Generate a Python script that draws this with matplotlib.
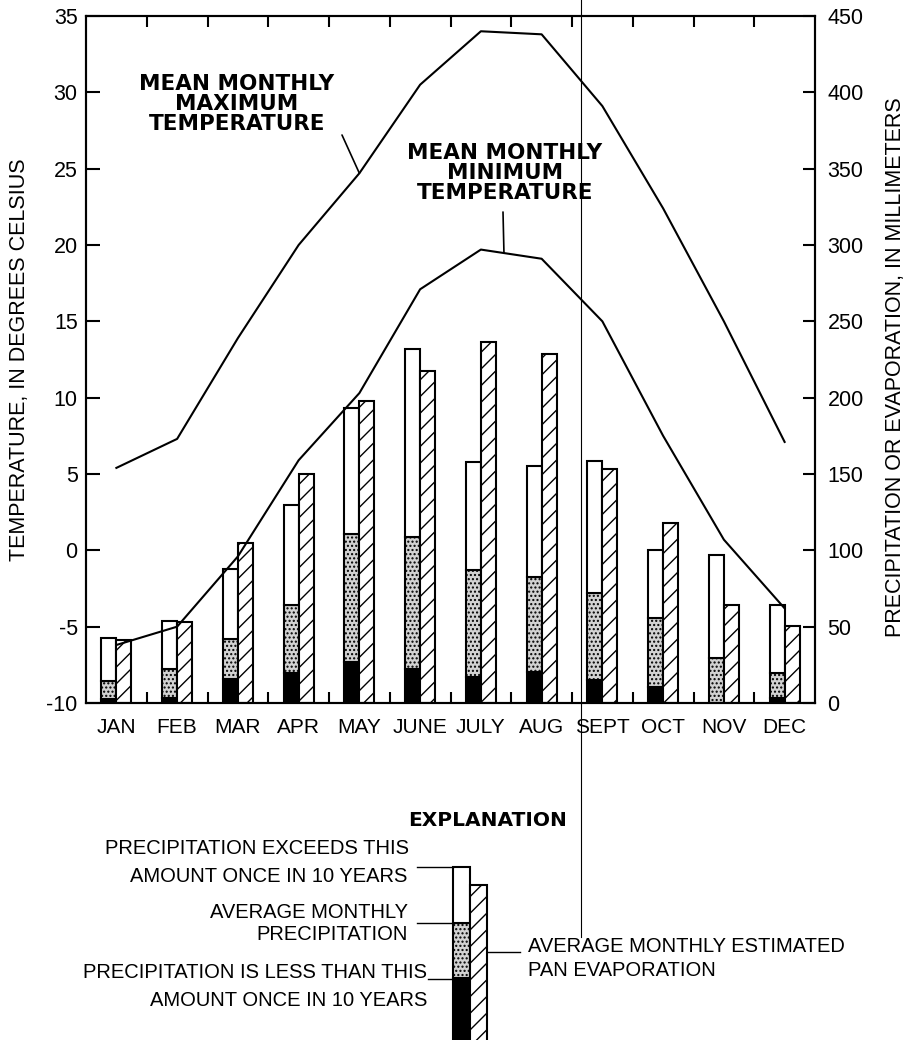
import numpy as np
import matplotlib.pyplot as plt
from matplotlib.lines import Line2D

plt.rcParams['font.family'] = ['Liberation Sans', 'DejaVu Sans']
plt.rcParams['axes.unicode_minus'] = False
plt.rcParams['hatch.color'] = 'black'
plt.rcParams['hatch.linewidth'] = 1.0

W, H = 906, 1040

months = ['JAN', 'FEB', 'MAR', 'APR', 'MAY', 'JUNE', 'JULY', 'AUG', 'SEPT', 'OCT', 'NOV', 'DEC']

# temperature, deg C
t_max = [5.4, 7.3, 13.9, 20.0, 24.7, 30.5, 34.0, 33.8, 29.1, 22.4, 15.0, 7.1]
t_min = [-6.2, -5.0, -0.4, 5.9, 10.3, 17.1, 19.7, 19.1, 15.0, 7.5, 0.7, -3.8]

# precipitation and pan evaporation, mm
precip_low = [2.5, 3.5, 16.0, 19.8, 27.0, 22.0, 17.0, 20.5, 15.0, 10.7, 0.0, 3.0]
precip_avg = [14.2, 22.2, 41.9, 64.0, 110.6, 109.0, 87.0, 82.7, 71.8, 55.4, 29.2, 19.4]
precip_high = [42.3, 53.7, 87.5, 130.0, 193.0, 231.7, 158.0, 155.0, 158.6, 100.0, 96.9, 64.0]
evap = [41.5, 53.0, 105.0, 149.7, 198.0, 217.5, 236.5, 228.4, 153.6, 117.6, 64.0, 50.4]

# sample bar in the explanation (arbitrary units)
key_levels = [62, 117, 173]
key_evap = 155


def px(x, y):
    return x / W, 1 - y / H


fig = plt.figure(figsize=(W / 100, H / 100), dpi=100)
ax = fig.add_axes([86 / W, 1 - 703 / H, 729 / W, 687 / H])
ax2 = ax.twinx()
ax.set_zorder(ax2.get_zorder() + 1)
ax.patch.set_visible(False)

x = np.arange(12) + 0.5
w = 0.247
low = np.array(precip_low)
avg = np.array(precip_avg)
high = np.array(precip_high)

ax2.bar(x - w / 2, low, w, color='black', edgecolor='black', lw=1.5)
ax2.bar(x - w / 2, avg - low, w, bottom=low, facecolor='#d2d2d2',
        edgecolor='black', hatch='....', lw=1.5)
ax2.bar(x - w / 2, high - avg, w, bottom=avg, facecolor='white',
        edgecolor='black', lw=1.5)
ax2.bar(x + w / 2, evap, w, facecolor='white', edgecolor='black',
        hatch='//', lw=1.5)

ax.plot(x, t_max, color='black', lw=1.5)
ax.plot(x, t_min, color='black', lw=1.5)

ax.set_xlim(0, 12)
ax.set_ylim(-10, 35)
ax2.set_ylim(0, 450)

ax.set_yticks(range(-10, 36, 5))
ax2.set_yticks(range(0, 451, 50))
ax.tick_params(axis='y', direction='in', length=10, width=1.5, labelsize=15.5, pad=6)
ax2.tick_params(axis='y', direction='in', length=9, width=1.5, labelsize=15.5, pad=9)
ax.set_xticks(x, months)
ax.set_xticks(np.arange(1, 12), minor=True)
ax.tick_params(axis='x', which='major', length=0, labelsize=15, pad=11)
ax.tick_params(axis='x', which='minor', direction='in', length=8, width=1.5,
               top=True, bottom=True)
for a in (ax, ax2):
    for s in a.spines.values():
        s.set_linewidth(1.5)

fig.text(*px(20, 360), 'TEMPERATURE, IN DEGREES CELSIUS', rotation=90,
         ha='center', va='center', fontsize=15.5)
fig.text(*px(895, 367), 'PRECIPITATION OR EVAPORATION, IN MILLIMETERS',
         rotation=90, ha='center', va='center', fontsize=15.5)

# curve labels
bold = dict(ha='center', va='center', fontsize=15.5, fontweight='bold',
            family='DejaVu Sans', linespacing=1.0, multialignment='center')
fig.text(*px(237, 104), 'MEAN MONTHLY\nMAXIMUM\nTEMPERATURE', **bold)
fig.text(*px(505, 173), 'MEAN MONTHLY\nMINIMUM\nTEMPERATURE', **bold)
lead = dict(arrowstyle='-', lw=1.2, shrinkA=0, shrinkB=0, color='black')
ax.annotate('', xy=(x[4], t_max[4]), xytext=(342, H - 135),
            textcoords='figure pixels', arrowprops=lead)
ax.annotate('', xy=(6.88, np.interp(6.88, x, t_min)), xytext=(503, H - 212),
            textcoords='figure pixels', arrowprops=lead)

# explanation
fig.text(*px(488, 821), 'EXPLANATION', ha='center', va='center',
         fontsize=14.5, fontweight='bold', family='DejaVu Sans')

kax = fig.add_axes([440 / W, 0, 60 / W, 180 / H])
kax.set_xlim(0, 60)
kax.set_ylim(0, 180)
kax.axis('off')
kb = -20
kax.bar(21.5, key_levels[0] - kb, 17, bottom=kb, color='black', edgecolor='black', lw=1.5)
kax.bar(21.5, key_levels[1] - key_levels[0], 17, bottom=key_levels[0],
        facecolor='#d2d2d2', edgecolor='black', hatch='....', lw=1.5)
kax.bar(21.5, key_levels[2] - key_levels[1], 17, bottom=key_levels[1],
        facecolor='white', edgecolor='black', lw=1.5)
kax.bar(38.5, key_evap - kb, 17, bottom=kb, facecolor='white',
        edgecolor='black', hatch='//', lw=1.5)

key_text = [
    ('PRECIPITATION EXCEEDS THIS', 409, 848, 'right'),
    ('AMOUNT ONCE IN 10 YEARS', 407, 876, 'right'),
    ('AVERAGE MONTHLY', 408, 913, 'right'),
    ('PRECIPITATION', 408, 935, 'right'),
    ('PRECIPITATION IS LESS THAN THIS', 427, 973, 'right'),
    ('AMOUNT ONCE IN 10 YEARS', 427, 1000, 'right'),
    ('AVERAGE MONTHLY ESTIMATED', 528, 947, 'left'),
    ('PAN EVAPORATION', 528, 970, 'left'),
]
for s, tx, ty, ha in key_text:
    fig.text(*px(tx, ty), s, ha=ha, va='center', fontsize=14.5)

for x0, x1, y in [(417, 453, 867), (417, 453, 923), (428, 452, 979), (487, 520, 952)]:
    (a0, b0), (a1, b1) = px(x0, y), px(x1, y)
    fig.add_artist(Line2D([a0, a1], [b0, b1], lw=1.0, color='black',
                          transform=fig.transFigure))

# thin vertical rule through the sheet
(a0, b0), (a1, b1) = px(581, 0), px(581, 937)
fig.add_artist(Line2D([a0, a1], [b0, b1], lw=0.8, color='black',
                      transform=fig.transFigure))

fig.savefig('out.png', dpi=100, facecolor='white')
